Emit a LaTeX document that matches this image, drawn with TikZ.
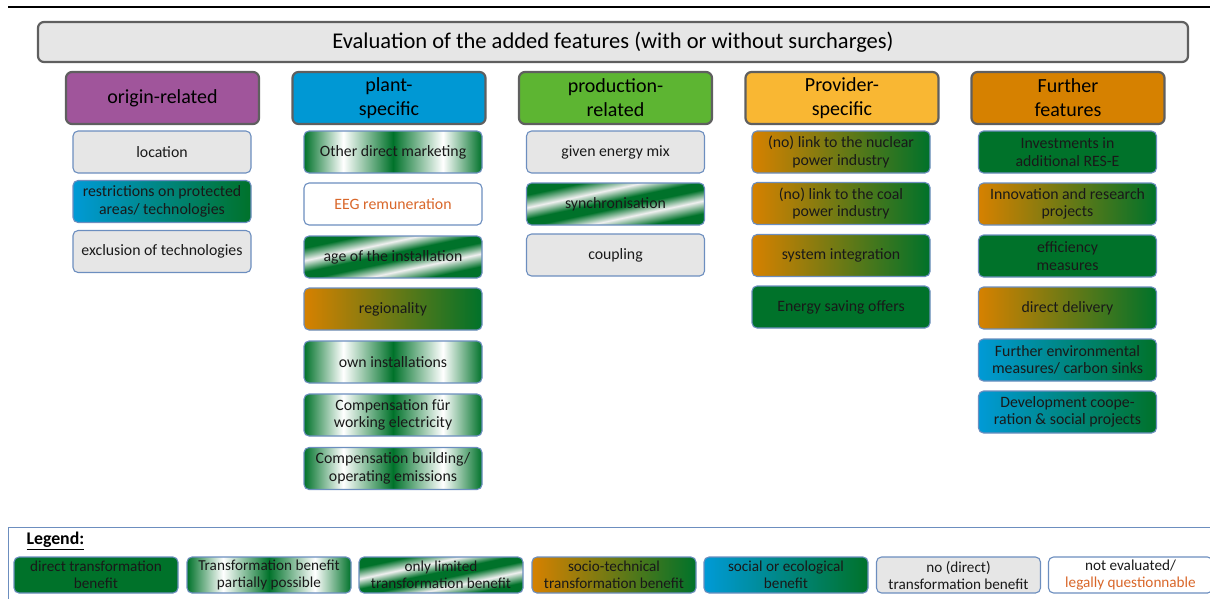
\documentclass[tikz,border=0pt]{standalone}
\usepackage{fontspec}
\setmainfont{Carlito}

\definecolor{trgreen}{RGB}{0,114,42}
\definecolor{trorange}{RGB}{214,129,0}
\definecolor{trblue}{RGB}{0,154,214}
\definecolor{nogray}{RGB}{230,230,230}
\definecolor{itemedge}{RGB}{108,142,191}
\definecolor{headedge}{RGB}{95,95,95}
\definecolor{qorange}{RGB}{217,103,42}
\definecolor{txtdark}{RGB}{25,25,25}
\definecolor{hpurple}{RGB}{160,85,155}
\definecolor{hblue}{RGB}{0,152,212}
\definecolor{hgreen}{RGB}{93,181,50}
\definecolor{hyellow}{RGB}{249,183,51}
\definecolor{horange}{RGB}{214,129,0}

\pgfdeclarehorizontalshading{greenbands}{100bp}{color(0bp)=(trgreen); color(25bp)=(trgreen); color(36bp)=(white); color(50bp)=(trgreen); color(64bp)=(white); color(75bp)=(trgreen); color(100bp)=(trgreen)}
\pgfdeclarehorizontalshading{greenstripes}{100bp}{color(0bp)=(trgreen); color(29bp)=(trgreen); color(38.5bp)=(white!88!gray); color(47bp)=(trgreen); color(53bp)=(trgreen); color(61.5bp)=(white!88!gray); color(71bp)=(trgreen); color(100bp)=(trgreen)}

\begin{document}
\begin{tikzpicture}[x=1pt, y=-1pt,
    head/.style={rounded corners=6pt, draw=headedge, line width=2.2pt,
        minimum width=193pt, minimum height=52pt, align=center,
        font=\fontsize{20}{24}\selectfont},
    item/.style={rounded corners=5pt, draw=itemedge, line width=1.1pt,
        minimum width=178pt, minimum height=42pt, inner sep=1pt, align=center,
        text=txtdark, font=\fontsize{15.8}{17.5}\selectfont},
    key/.style={item, minimum width=164pt, minimum height=36pt,
        font=\fontsize{15.2}{17}\selectfont},
    direct/.style={fill=trgreen},
    partly/.style={shade, shading=greenbands},
    limited/.style={shade, shading=greenstripes, shading angle=-78},
    socio/.style={left color=trorange, right color=trgreen},
    social/.style={left color=trblue, right color=trgreen},
    nodirect/.style={fill=nogray},
    noteval/.style={fill=white, text=qorange}]
        \useasboundingbox (0,0) rectangle (1210,598);

        % top rule and legend frame
        \coordinate (ruleL) at (8,7);
        \coordinate (ruleR) at (1210,7);
        \draw[line width=2.5pt] (ruleL) -- (ruleR);
        \draw[itemedge, line width=1pt] (8,527) rectangle (1230,620);

        \node[head, draw=headedge, fill=nogray, minimum width=1150pt, minimum height=40pt,
            font=\fontsize{22.5}{26}\selectfont] (title) at (613,42)
            {Evaluation of the added features (with or without surcharges)};

        % column heads
        \node[head, fill=hpurple] (origin) at (162.5,98) {origin-related};
        \node[head, fill=hblue] (plant) at (389,98) {plant-\\specific};
        \node[head, fill=hgreen] (production) at (615.5,98) {production-\\related};
        \node[head, fill=hyellow] (provider) at (842,98) {Provider-\\specific};
        \node[head, fill=horange] (further) at (1068,98) {Further\\features};

        % origin-related
        \node[item, nodirect] (location) at (162,152) {location};
        \node[item, social] (restrict) at (162,201.5) {restrictions on protected\\areas/ technologies};
        \node[item, nodirect] (exclusion) at (162,251.5) {exclusion of technologies};

        % plant-specific
        \node[item, partly] (marketing) at (393,152) {Other direct marketing};
        \node[item, noteval] (eeg) at (393,204) {EEG remuneration};
        \node[item, limited] (age) at (393,257) {age of the installation};
        \node[item, socio] (regional) at (393,309) {regionality};
        \node[item, partly] (own) at (393,362) {own installations};
        \node[item, partly] (working) at (393,415) {Compensation für\\working electricity};
        \node[item, partly] (building) at (393,468.5) {Compensation building/\\operating emissions};

        % production-related
        \node[item, nodirect] (mix) at (615.5,152) {given energy mix};
        \node[item, limited] (sync) at (615.5,204) {synchronisation};
        \node[item, nodirect] (coupling) at (615.5,255) {coupling};

        % provider-specific
        \node[item, socio] (nuclear) at (841,152) {(no) link to the nuclear\\power industry};
        \node[item, socio] (coal) at (841,203.5) {(no) link to the coal\\power industry};
        \node[item, socio] (sysint) at (841,255.5) {system integration};
        \node[item, direct] (saving) at (841,307) {Energy saving offers};

        % further features
        \node[item, direct] (invest) at (1067.5,152) {Investments in\\additional RES-E};
        \node[item, socio] (innov) at (1067.5,204) {Innovation and research\\projects};
        \node[item, direct] (effic) at (1067.5,256) {efficiency\\measures};
        \node[item, socio] (delivery) at (1067.5,308) {direct delivery};
        \node[item, social] (environ) at (1067.5,360) {Further environmental\\measures/ carbon sinks};
        \node[item, social] (develop) at (1067.5,412) {Development  coope-\\ration \& social projects};

        % legend
        \node[anchor=west, font=\fontsize{17.8}{20}\selectfont\bfseries] (legend) at (23,541) {\underline{Legend:}};
        \node[key, direct] (kdirect) at (96,575) {direct  transformation\\benefit};
        \node[key, partly] (kpartly) at (269,575) {Transformation benefit\\partially possible};
        \node[key, limited] (klimited) at (441,575) {only limited\\transformation benefit};
        \node[key, socio] (ksocio) at (614,575) {socio-technical\\transformation benefit};
        \node[key, social] (ksocial) at (786,575) {social or ecological\\benefit};
        \node[key, nodirect] (knone) at (958.5,575) {no (direct)\\transformation benefit};
        \node[key, fill=white] (keval) at (1130.5,575) {not evaluated/\\\textcolor{qorange}{legally questionnable}};

    \end{tikzpicture}
\end{document}
